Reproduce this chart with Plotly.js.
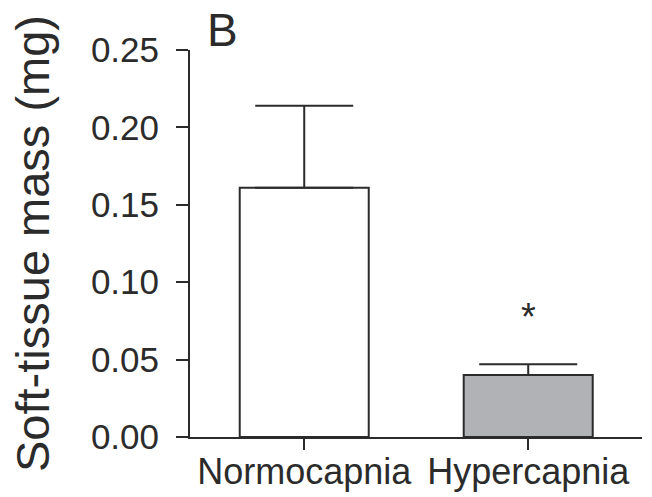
<!DOCTYPE html>
<html>
<head>
<meta charset="utf-8">
<script src="https://cdn.plot.ly/plotly-3.0.1.min.js"></script>
<style>html,body{margin:0;padding:0;background:#fff;}#chart{width:652px;height:497px;}</style>
</head>
<body>
<div id="chart"></div>
<script>
const categories = ["Normocapnia", "Hypercapnia"];
const means = [0.161, 0.040];
const errorsUp = [0.053, 0.007];
const barColors = ["#ffffff", "#b1b2b5"];
const sigLabels = ["", "*"];
const sigLevel = [null, 0.0775];
const panelLabel = "B";
const yTicks = [0, 0.05, 0.10, 0.15, 0.20, 0.25];
const yTickText = ["0.00", "0.05", "0.10", "0.15", "0.20", "0.25"];

const FONT = "Liberation Sans, Arial, Helvetica, sans-serif";
const INK = "#2b2b2b";

const trace = {
  type: "bar",
  x: categories,
  y: means,
  width: 0.576,
  marker: {color: barColors, line: {color: INK, width: 2}},
  error_y: {
    type: "data",
    symmetric: false,
    array: errorsUp,
    arrayminus: [0, 0],
    color: INK,
    thickness: 2,
    width: 49
  },
  hoverinfo: "none"
};

const annotations = [];
categories.forEach((c, i) => {
  if (sigLabels[i]) {
    annotations.push({
      x: c, y: sigLevel[i], xref: "x", yref: "y",
      text: sigLabels[i], showarrow: false,
      font: {family: FONT, size: 38, color: INK},
      xanchor: "center", yanchor: "middle"
    });
  }
});
annotations.push({
  xref: "paper", yref: "paper", x: 0.033, y: 1, xanchor: "left", yanchor: "bottom",
  text: panelLabel, showarrow: false, yshift: -8,
  font: {family: FONT, size: 46, color: INK}
});

const layout = {
  width: 652, height: 497,
  margin: {l: 190, r: 10, t: 50, b: 60, pad: 0},
  paper_bgcolor: "#ffffff", plot_bgcolor: "#ffffff",
  showlegend: false,
  font: {family: FONT, color: INK},
  xaxis: {
    type: "category",
    range: [-0.51, 1.508],
    showline: true, linecolor: INK, linewidth: 2,
    ticks: "outside", ticklen: 11, tickwidth: 2, tickcolor: INK,
    tickfont: {family: FONT, size: 36, color: INK},
    ticklabelstandoff: -9,
    showgrid: false, zeroline: false, fixedrange: true
  },
  yaxis: {
    range: [0, 0.25],
    tickvals: yTicks, ticktext: yTickText,
    showline: true, linecolor: INK, linewidth: 2,
    ticks: "outside", ticklen: 12, tickwidth: 2, tickcolor: INK,
    tickfont: {family: FONT, size: 35, color: INK},
    ticklabelstandoff: 10,
    showgrid: false, zeroline: false, fixedrange: true,
    title: {text: "Soft-tissue mass (mg)", font: {family: FONT, size: 47, color: INK}, standoff: 26}
  },
  annotations: annotations
};

Plotly.newPlot("chart", [trace], layout, {displayModeBar: false, staticPlot: true});
</script>
</body>
</html>
